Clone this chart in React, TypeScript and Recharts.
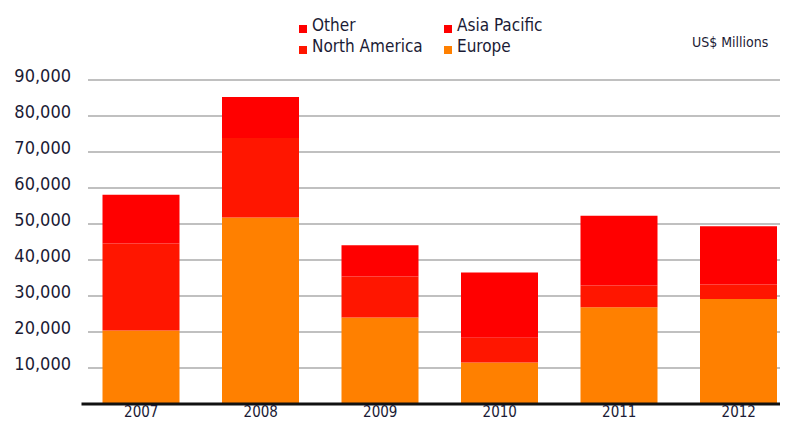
import React from 'react';
import { BarChart, Bar, XAxis, YAxis, CartesianGrid } from 'recharts';

// US$ millions
const years = ['2007', '2008', '2009', '2010', '2011', '2012'];
const europe = [20400, 51800, 24000, 11500, 26900, 29200];
const northAmerica = [24200, 22100, 11400, 6900, 6000, 4000];
const asiaPacific = [13500, 11400, 8700, 18100, 19400, 16200];
const other = [0, 0, 0, 0, 0, 0];
const yTicks = [10000, 20000, 30000, 40000, 50000, 60000, 70000, 80000, 90000];

const COLORS = {
  europe: '#ff8000',
  northAmerica: '#ff1600',
  asiaPacific: '#ff0000',
  other: '#ff0000',
};

const FONT = "'DejaVu Sans Condensed', 'DejaVu Sans', sans-serif";
const TEXT = '#1b1b35';

const data = years.map((year, i) => ({
  year,
  europe: europe[i],
  northAmerica: northAmerica[i],
  asiaPacific: asiaPacific[i],
  other: other[i],
}));

const legendItems = [
  { label: 'Other', color: COLORS.other, left: 299, top: 25 },
  { label: 'North America', color: COLORS.northAmerica, left: 299, top: 46 },
  { label: 'Asia Pacific', color: COLORS.asiaPacific, left: 444, top: 25 },
  { label: 'Europe', color: COLORS.europe, left: 444, top: 46 },
];

const YTick = (props: any) => {
  const { y, payload } = props;
  return (
    <text x={71} y={y} dy={2} textAnchor="end" fontSize={18} fontFamily={FONT} fill={TEXT}>
      {payload.value.toLocaleString('en-US')}
    </text>
  );
};

// labels sit right under the black baseline, near the bottom edge
const XTick = (props: any) => {
  const { x, payload } = props;
  return (
    <text x={x} y={417} textAnchor="middle" fontSize={15} fontFamily={FONT} fill={TEXT}>
      {payload.value}
    </text>
  );
};

export default function App() {
  return (
    <div
      style={{
        position: 'relative',
        width: 788,
        height: 423,
        marginLeft: -8,
        marginTop: -8,
        overflow: 'hidden',
        background: '#fff',
      }}
    >
      <BarChart
        width={800}
        height={423}
        data={data}
        margin={{ top: 80, right: 1.5, bottom: 0, left: 0 }}
        barSize={77}
      >
        <CartesianGrid
          vertical={false}
          x={88}
          width={712}
          stroke="#c0c0c0"
          strokeWidth={1.8}
        />
        <XAxis
          dataKey="year"
          height={19}
          tickLine={false}
          axisLine={{ stroke: '#111', strokeWidth: 3 }}
          tick={<XTick />}
        />
        <YAxis
          width={81.5}
          domain={[0, 90000]}
          ticks={yTicks}
          axisLine={false}
          tickLine={false}
          tick={<YTick />}
        />
        <Bar dataKey="europe" stackId="a" fill={COLORS.europe} isAnimationActive={false} />
        <Bar dataKey="northAmerica" stackId="a" fill={COLORS.northAmerica} isAnimationActive={false} />
        <Bar dataKey="asiaPacific" stackId="a" fill={COLORS.asiaPacific} isAnimationActive={false} />
        <Bar dataKey="other" stackId="a" fill={COLORS.other} isAnimationActive={false} />
      </BarChart>

      {legendItems.map((item) => (
        <div
          key={item.label}
          style={{
            position: 'absolute',
            left: item.left,
            top: item.top - 10,
            display: 'flex',
            alignItems: 'flex-end',
            fontFamily: FONT,
            fontSize: 17,
            color: TEXT,
            lineHeight: '20px',
            whiteSpace: 'nowrap',
          }}
        >
          <span
            style={{
              display: 'inline-block',
              width: 8,
              height: 8,
              background: item.color,
              marginRight: 5,
              marginBottom: 2,
            }}
          />
          {item.label}
        </div>
      ))}

      <div
        style={{
          position: 'absolute',
          left: 692,
          top: 34,
          fontFamily: FONT,
          fontSize: 14,
          color: TEXT,
          whiteSpace: 'nowrap',
        }}
      >
        US$ Millions
      </div>
    </div>
  );
}
